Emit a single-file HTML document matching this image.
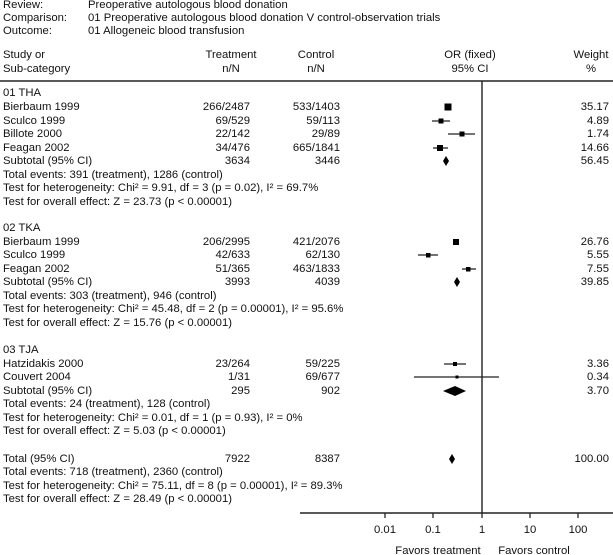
<!DOCTYPE html>
<html><head><style>body{margin:0;background:#fff}svg{display:block}text{font-family:"Liberation Sans",Arial,sans-serif;font-size:11.3px;fill:#111}</style></head><body>
<svg width="613" height="555" xmlns="http://www.w3.org/2000/svg">
<g dominant-baseline="central">
<text x="3" y="5">Review:</text><text x="88" y="5">Preoperative autologous blood donation</text>
<text x="3" y="18">Comparison:</text><text x="88" y="18">01 Preoperative autologous blood donation V control-observation trials</text>
<text x="3" y="31">Outcome:</text><text x="88" y="31">01 Allogeneic blood transfusion</text>
<text x="3" y="55">Study or</text><text x="3" y="69">Sub-category</text>
<text x="231" y="55" text-anchor="middle">Treatment</text><text x="231" y="69" text-anchor="middle">n/N</text>
<text x="316" y="55" text-anchor="middle">Control</text><text x="316" y="69" text-anchor="middle">n/N</text>
<text x="470" y="55" text-anchor="middle">OR (fixed)</text><text x="470" y="69" text-anchor="middle">95% CI</text>
<text x="591" y="55" text-anchor="middle">Weight</text><text x="591" y="69" text-anchor="middle">%</text>

<text x="3" y="93">01 THA</text>
<text x="3" y="107">Bierbaum 1999</text><text x="250" y="107" text-anchor="end">266/2487</text><text x="340" y="107" text-anchor="end">533/1403</text><text x="609" y="107" text-anchor="end">35.17</text>
<text x="3" y="121">Sculco 1999</text><text x="250" y="121" text-anchor="end">69/529</text><text x="340" y="121" text-anchor="end">59/113</text><text x="609" y="121" text-anchor="end">4.89</text>
<text x="3" y="134">Billote 2000</text><text x="250" y="134" text-anchor="end">22/142</text><text x="340" y="134" text-anchor="end">29/89</text><text x="609" y="134" text-anchor="end">1.74</text>
<text x="3" y="148">Feagan 2002</text><text x="250" y="148" text-anchor="end">34/476</text><text x="340" y="148" text-anchor="end">665/1841</text><text x="609" y="148" text-anchor="end">14.66</text>
<text x="3" y="161">Subtotal (95% CI)</text><text x="250" y="161" text-anchor="end">3634</text><text x="340" y="161" text-anchor="end">3446</text><text x="609" y="161" text-anchor="end">56.45</text>
<text x="3" y="175">Total events: 391 (treatment), 1286 (control)</text>
<text x="3" y="188">Test for heterogeneity: Chi² = 9.91, df = 3 (p = 0.02), I² = 69.7%</text>
<text x="3" y="202">Test for overall effect: Z = 23.73 (p &lt; 0.00001)</text>

<text x="3" y="228">02 TKA</text>
<text x="3" y="242">Bierbaum 1999</text><text x="250" y="242" text-anchor="end">206/2995</text><text x="340" y="242" text-anchor="end">421/2076</text><text x="609" y="242" text-anchor="end">26.76</text>
<text x="3" y="255">Sculco 1999</text><text x="250" y="255" text-anchor="end">42/633</text><text x="340" y="255" text-anchor="end">62/130</text><text x="609" y="255" text-anchor="end">5.55</text>
<text x="3" y="269">Feagan 2002</text><text x="250" y="269" text-anchor="end">51/365</text><text x="340" y="269" text-anchor="end">463/1833</text><text x="609" y="269" text-anchor="end">7.55</text>
<text x="3" y="282">Subtotal (95% CI)</text><text x="250" y="282" text-anchor="end">3993</text><text x="340" y="282" text-anchor="end">4039</text><text x="609" y="282" text-anchor="end">39.85</text>
<text x="3" y="296">Total events: 303 (treatment), 946 (control)</text>
<text x="3" y="309">Test for heterogeneity: Chi² = 45.48, df = 2 (p = 0.00001), I² = 95.6%</text>
<text x="3" y="323">Test for overall effect: Z = 15.76 (p &lt; 0.00001)</text>

<text x="3" y="350">03 TJA</text>
<text x="3" y="364">Hatzidakis 2000</text><text x="250" y="364" text-anchor="end">23/264</text><text x="340" y="364" text-anchor="end">59/225</text><text x="609" y="364" text-anchor="end">3.36</text>
<text x="3" y="377">Couvert 2004</text><text x="250" y="377" text-anchor="end">1/31</text><text x="340" y="377" text-anchor="end">69/677</text><text x="609" y="377" text-anchor="end">0.34</text>
<text x="3" y="391">Subtotal (95% CI)</text><text x="250" y="391" text-anchor="end">295</text><text x="340" y="391" text-anchor="end">902</text><text x="609" y="391" text-anchor="end">3.70</text>
<text x="3" y="404">Total events: 24 (treatment), 128 (control)</text>
<text x="3" y="418">Test for heterogeneity: Chi² = 0.01, df = 1 (p = 0.93), I² = 0%</text>
<text x="3" y="431">Test for overall effect: Z = 5.03 (p &lt; 0.00001)</text>

<text x="3" y="459">Total (95% CI)</text><text x="250" y="459" text-anchor="end">7922</text><text x="340" y="459" text-anchor="end">8387</text><text x="609" y="459" text-anchor="end">100.00</text>
<text x="3" y="472">Total events: 718 (treatment), 2360 (control)</text>
<text x="3" y="486">Test for heterogeneity: Chi² = 75.11, df = 8 (p = 0.00001), I² = 89.3%</text>
<text x="3" y="499">Test for overall effect: Z = 28.49 (p &lt; 0.00001)</text>

<text x="385" y="530" text-anchor="middle">0.01</text>
<text x="433" y="530" text-anchor="middle">0.1</text>
<text x="482" y="530" text-anchor="middle">1</text>
<text x="530" y="530" text-anchor="middle">10</text>
<text x="578" y="530" text-anchor="middle">100</text>
<text x="438" y="551" text-anchor="middle">Favors treatment</text>
<text x="534" y="551" text-anchor="middle">Favors control</text>
</g>
<g stroke="#222" fill="none" stroke-width="1.3">
<line x1="0" y1="81" x2="613" y2="81" stroke-width="1.6"/>
<line x1="482" y1="81" x2="482" y2="513" stroke-width="1.4"/>
<line x1="300" y1="513" x2="613" y2="513" stroke-width="1.4"/>
<line x1="385" y1="513" x2="385" y2="518"/><line x1="433" y1="513" x2="433" y2="518"/><line x1="482" y1="513" x2="482" y2="518"/><line x1="530" y1="513" x2="530" y2="518"/><line x1="578" y1="513" x2="578" y2="518"/>
<line x1="432" y1="121" x2="450" y2="121"/>
<line x1="448" y1="134" x2="475" y2="134"/>
<line x1="433" y1="148" x2="448" y2="148"/>
<line x1="418" y1="255" x2="438" y2="255"/>
<line x1="462" y1="269" x2="476" y2="269"/>
<line x1="444" y1="364" x2="466" y2="364"/>
<line x1="414" y1="377" x2="499" y2="377"/>
</g>
<g fill="#000">
<rect x="444.5" y="103.5" width="7" height="7"/>
<rect x="438.5" y="118.5" width="5" height="5"/>
<rect x="459.5" y="131.5" width="5" height="5"/>
<rect x="437" y="145" width="6" height="6"/>
<polygon points="446,156 449,161 446,166 443,161"/>
<rect x="453" y="239" width="6" height="6"/>
<rect x="426" y="253" width="4.5" height="4.5"/>
<rect x="466" y="267" width="4.5" height="4.5"/>
<polygon points="457,277 460,282 457,287 454,282"/>
<rect x="453" y="362" width="4" height="4"/>
<rect x="455.5" y="375.5" width="3" height="3"/>
<polygon points="455,386 466,391 455,396 443,391"/>
<polygon points="452,454 455,459 452,464 449,459"/>
</g>
</svg>
</body></html>
